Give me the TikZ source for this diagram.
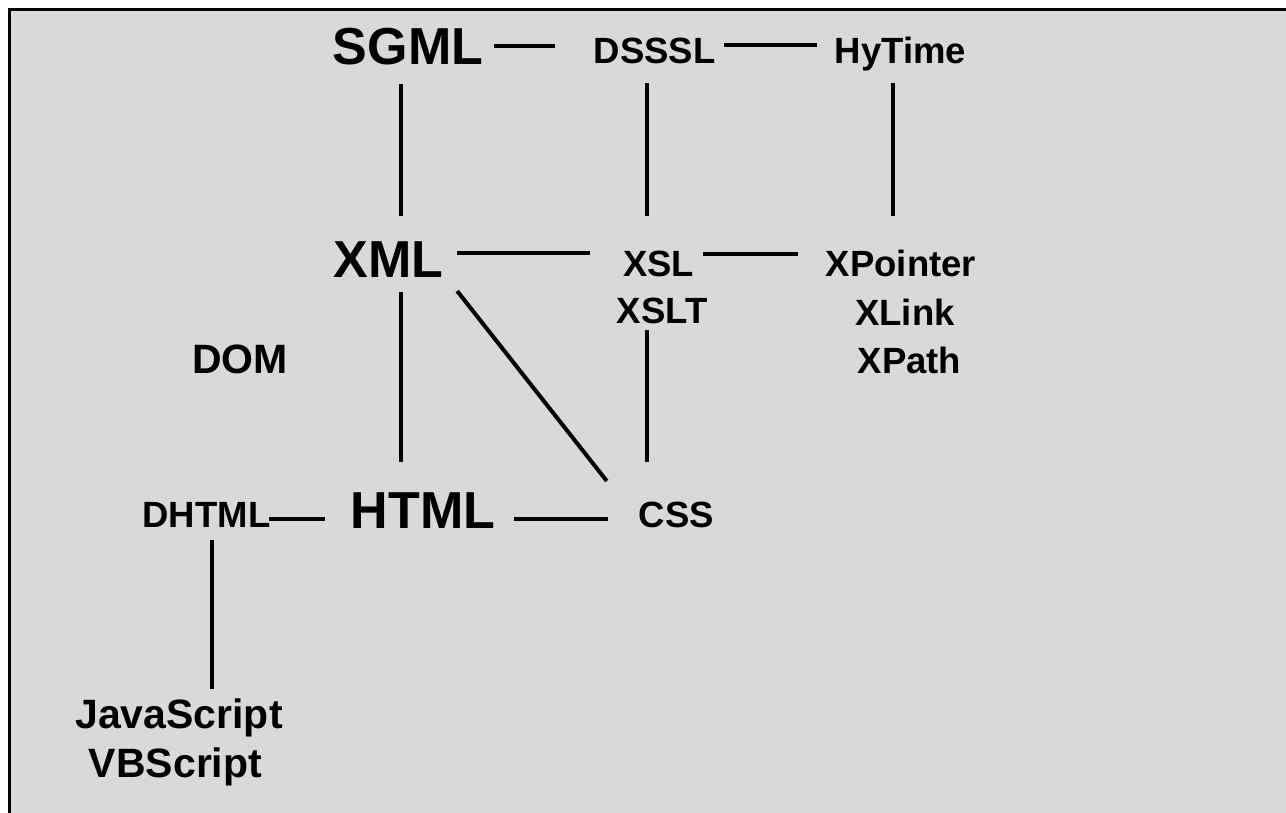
\documentclass[tikz,border=0pt]{standalone}
\usepackage{fontspec}
\setmainfont{Liberation Sans}
\definecolor{bg}{HTML}{D9D9D9}
\tikzset{
  lbl/.style={inner sep=0pt, anchor=base, font=\bfseries},
  big/.style={lbl, font=\fontsize{52}{60}\selectfont\bfseries},
  mid/.style={lbl, font=\fontsize{41}{48}\selectfont\bfseries},
  sml/.style={lbl, font=\fontsize{36.5}{44}\selectfont\bfseries},
  conn/.style={line width=4pt, black, line cap=butt},
}
\begin{document}
\begin{tikzpicture}[x=1pt,y=-1pt]
\useasboundingbox (0,0) rectangle (1286,812);
\clip (0,0) rectangle (1286,812);
\fill[white] (0,0) rectangle (1286,812);
\filldraw[fill=bg, draw=black, line width=3pt] (9.5,9.5) rectangle (1320,840);

\node[big] (sgml) at (408,64) {SGML};
\node[sml] (dsssl) at (654.5,63) {DSSSL};
\node[sml] (hytime) at (900.5,63) {HyTime};
\node[big] (xml) at (388.5,277) {XML};
\node[sml] (xsl) at (658.5,276) {XSL};
\node[sml] (xslt) at (662,323) {XSLT};
\node[sml] (xpointer) at (901,276) {XPointer};
\node[sml] (xlink) at (905,325) {XLink};
\node[sml] (xpath) at (909.5,373) {XPath};
\node[mid] (dom) at (240,373) {DOM};
\node[big] (html) at (423,528) {HTML};
\node[sml] (dhtml) at (206.5,527) {DHTML};
\node[sml] (css) at (676.5,527) {CSS};
\node[mid] (js) at (179,728) {JavaScript};
\node[mid] (vbs) at (175.5,777) {VBScript};

\draw[conn] ([shift={(11pt,18pt)}]sgml.base east) -- ([shift={(-38pt,17pt)}]dsssl.base west);
\draw[conn] ([shift={(8pt,18pt)}]dsssl.base east) -- ([shift={(-17.6pt,18pt)}]hytime.base west);
\draw[conn] ([shift={(-7pt,-20pt)}]sgml.base) -- ([shift={(12.5pt,61pt)}]xml.base);
\draw[conn] ([shift={(-7.5pt,-20pt)}]dsssl.base) -- ([shift={(-11.5pt,60pt)}]xsl.base);
\draw[conn] ([shift={(-7.5pt,-20pt)}]hytime.base) -- ([shift={(-8pt,60pt)}]xpointer.base);
\draw[conn] ([shift={(13.6pt,24pt)}]xml.base east) -- ([shift={(-33pt,23pt)}]xsl.base west);
\draw[conn] ([shift={(9pt,22pt)}]xsl.base east) -- ([shift={(-28pt,22pt)}]xpointer.base west);
\draw[conn] ([shift={(12.5pt,-15pt)}]xml.base) -- ([shift={(-22pt,66pt)}]html.base);
\draw[conn] ([shift={(13.6pt,-14pt)}]xml.base east) -- ([shift={(-32pt,46pt)}]css.base west);
\draw[conn] ([shift={(-15pt,-7pt)}]xslt.base) -- ([shift={(-29.5pt,65pt)}]css.base);
\draw[conn] ([shift={(-2pt,8pt)}]dhtml.base east) -- ([shift={(-25.8pt,9pt)}]html.base west);
\draw[conn] ([shift={(18.8pt,9pt)}]html.base east) -- ([shift={(-31pt,8pt)}]css.base west);
\draw[conn] ([shift={(5.5pt,-13pt)}]dhtml.base) -- ([shift={(33pt,39pt)}]js.base);
\end{tikzpicture}
\end{document}
